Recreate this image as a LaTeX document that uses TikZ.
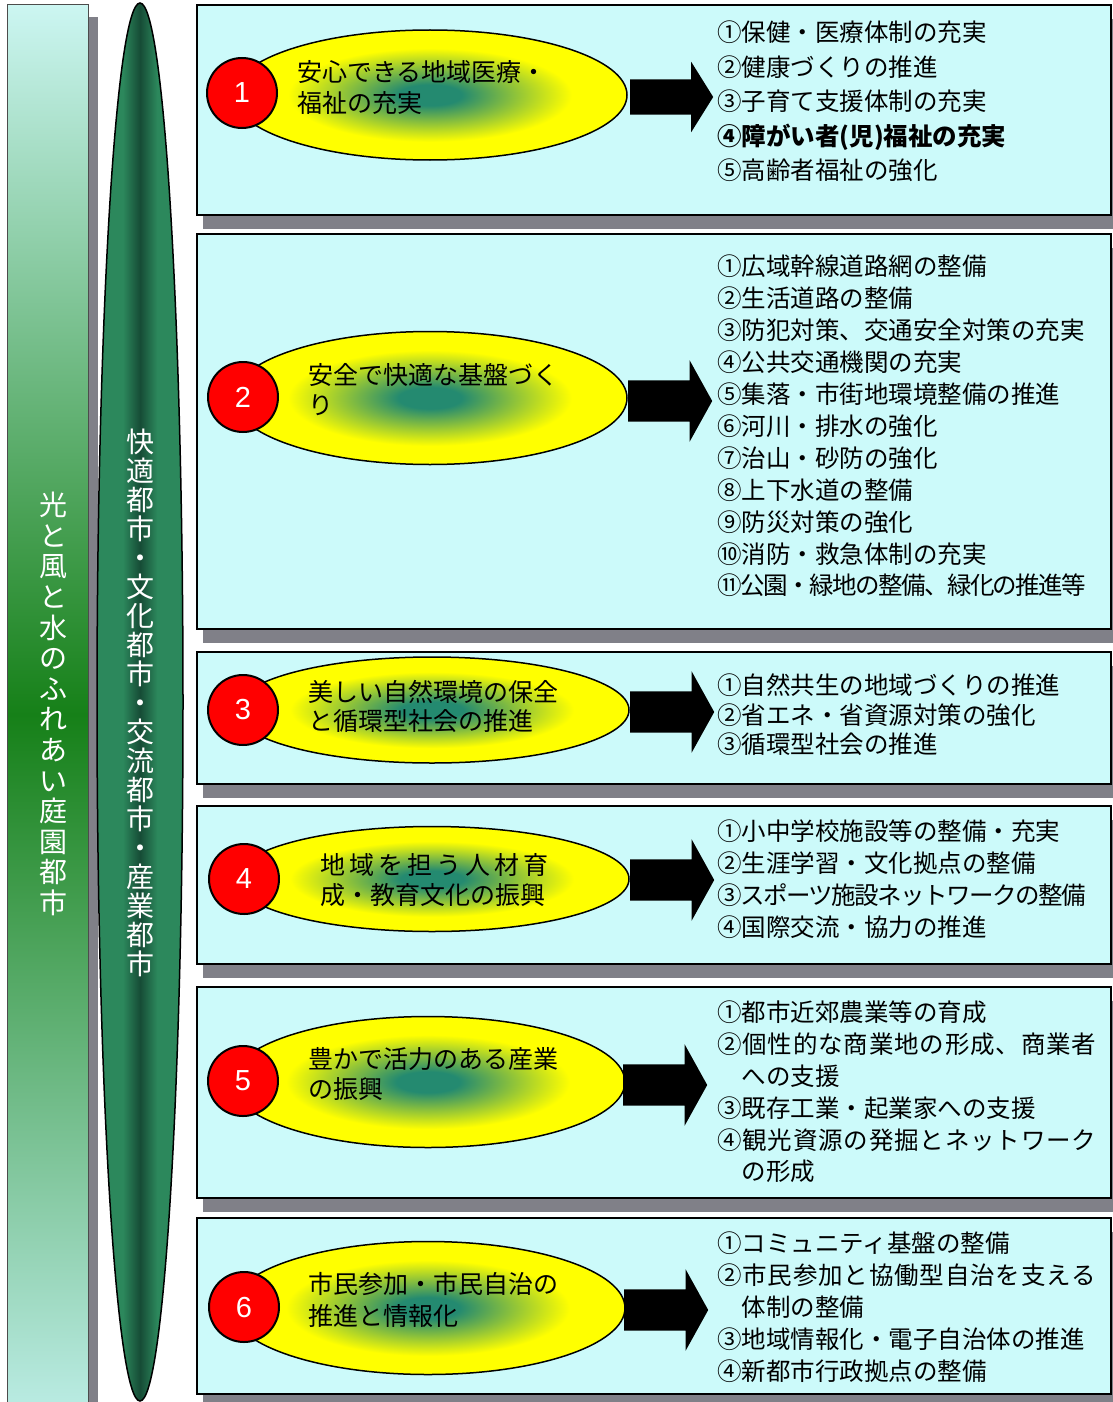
\documentclass[tikz,border=0pt]{standalone}
\usepackage{fontspec}
\setmainfont{Noto Sans CJK JP}
\newfontfamily\numfont{Liberation Sans}
\usetikzlibrary{positioning}
\usetikzlibrary{shapes.geometric,shapes.arrows,shadows}
\definecolor{boxcyan}{RGB}{204,250,250}
\definecolor{bandtop}{RGB}{204,246,242}
\definecolor{bandmid}{RGB}{22,128,24}
\definecolor{bandbot}{RGB}{190,238,232}
\definecolor{leafgreen}{RGB}{44,136,92}
\definecolor{leafdark}{RGB}{22,76,54}
\definecolor{ovalyellow}{RGB}{255,255,0}
\definecolor{ovalgreen}{RGB}{36,138,112}
\definecolor{shadowgray}{RGB}{128,128,136}
\pgfdeclareradialshading{ovalshade}{\pgfpoint{0bp}{0bp}}{color(0bp)=(ovalgreen); color(4bp)=(ovalgreen); color(18bp)=(ovalyellow); color(50bp)=(ovalyellow)}
\pgfdeclarehorizontalshading{leafshade}{100bp}{color(0bp)=(leafgreen); color(40bp)=(leafgreen); color(50bp)=(leafdark); color(60bp)=(leafgreen); color(100bp)=(leafgreen)}
\newcommand{\wide}[1]{{\addfontfeature{LetterSpace=3.4}#1}}
\newcommand{\tight}[1]{{\addfontfeature{LetterSpace=-6.2}#1}}

\begin{document}
\begin{tikzpicture}[x=1pt,y=-1pt,
	bandnode/.style={rectangle, draw=black!70, line width=1pt, top color=bandtop, bottom color=bandbot, middle color=bandmid, minimum width=81pt, minimum height=1420pt, anchor=north, general shadow={fill=shadowgray, shadow xshift=10pt, shadow yshift=-13pt}},
	leafnode/.style={ellipse, draw=black, line width=1.5pt, shade, shading=leafshade, minimum width=86pt, minimum height=1398pt},
	tatetext/.style={text=white, align=center, inner sep=0pt, font=\fontsize{28}{30.6}\selectfont},
	panelnode/.style={rectangle, draw=black, line width=1.8pt, fill=boxcyan, minimum width=914pt, anchor=north west, general shadow={fill=shadowgray, shadow xshift=6pt, shadow yshift=-14pt}},
	ovalnode/.style={ellipse, draw=black, line width=1.5pt, shade, shading=ovalshade, minimum width=394pt},
	roundnode/.style={circle, draw=black, line width=2pt, fill=red, minimum size=70pt, text=white, font=\numfont\fontsize{29}{29}\selectfont},
	ovaltext/.style={anchor=north west, align=left, inner sep=0pt, font=\fontsize{25}{30}\selectfont},
	listtext/.style={anchor=north west, align=left, inner sep=0pt, font=\fontsize{24.5}{31.9}\selectfont},
	blockarrow/.style={single arrow, fill=black, inner xsep=0pt, inner ysep=20.5pt, single arrow head extend=20pt, single arrow tip angle=122, minimum height=84pt, anchor=tail},
	]
	\useasboundingbox (0,0) rectangle (1112,1402);
	\fill[white] (0,0) rectangle (1112,1402);

	%Columns
	\node[bandnode] (band) at (47.5,4) {};
	\node[tatetext] (bandlabel) at (53,704) {光\\と\\風\\と\\水\\の\\ふ\\れ\\あ\\い\\庭\\園\\都\\市};
	\node[leafnode] (leaf) at (140,702) {};
	\node[tatetext, font=\fontsize{28}{29}\selectfont] (leaflabel) at (140,703) {快\\適\\都\\市\\・\\文\\化\\都\\市\\・\\交\\流\\都\\市\\・\\産\\業\\都\\市};

	%Panels
	\node[panelnode, minimum height=210pt] (p1) at (196,4) {};
	\node[panelnode, minimum height=395pt] (p2) at (196,233) {};
	\node[panelnode, minimum height=132pt] (p3) at (196,651) {};
	\node[panelnode, minimum height=158pt] (p4) at (196,805) {};
	\node[panelnode, minimum height=211pt] (p5) at (196,986) {};
	\node[panelnode, minimum height=176pt] (p6) at (196,1217) {};

	%Ovals
	\node[ovalnode, minimum height=130pt] (o1) at (430,95) {};
	\node[ovalnode, minimum height=133pt] (o2) at (430,398) {};
	\node[ovalnode, minimum height=106pt] (o3) at (432,710) {};
	\node[ovalnode, minimum height=105pt] (o4) at (432,879) {};
	\node[ovalnode, minimum height=131pt] (o5) at (428,1082) {};
	\node[ovalnode, minimum height=133pt] (o6) at (428,1308) {};

	\node[roundnode] (n1) at (242,93) {1};
	\node[roundnode] (n2) at (243,397) {2};
	\node[roundnode] (n3) at (243,710) {3};
	\node[roundnode] (n4) at (244,879) {4};
	\node[roundnode] (n5) at (243,1081) {5};
	\node[roundnode] (n6) at (244,1307) {6};

	\node[ovaltext, font=\fontsize{25}{31}\selectfont] (ot1) at (297,60.5) {安心できる地域医療・\\福祉の充実};
	\node[ovaltext] (ot2) at (308,363.5) {安全で快適な基盤づく\\り};
	\node[ovaltext, font=\fontsize{25}{29}\selectfont] (ot3) at (308,680.5) {美しい自然環境の保全\\と循環型社会の推進};
	\node[ovaltext] (ot4) at (320,853.5) {{\addfontfeature{LetterSpace=16}地域を担う人材育}\\成・教育文化の振興};
	\node[ovaltext] (ot5) at (308,1047.5) {豊かで活力のある産業\\の振興};
	\node[ovaltext, font=\fontsize{25}{32}\selectfont] (ot6) at (308,1272.5) {市民参加・市民自治の\\推進と情報化};

	%Arrows
	\node[blockarrow, inner ysep=17.5pt, single arrow head extend=17.5pt, single arrow tip angle=116, minimum height=83pt] (a1) at (630,97) {};
	\node[blockarrow] (a2) at (628,401) {};
	\node[blockarrow] (a3) at (630,712) {};
	\node[blockarrow] (a4) at (630,880) {};
	\node[blockarrow] (a5) at (623,1085) {};
	\node[blockarrow] (a6) at (624,1310) {};

	%Lists
	\node[listtext, font=\fontsize{24.5}{34.5}\selectfont] (l1) at (717,21) {①保健・医療体制の充実\\②健康づくりの推進\\③子育て支援体制の充実\\\textbf{④障がい者(児)福祉の充実}\\⑤高齢者福祉の強化};
	\node[listtext] (l2) at (717,255) {①広域幹線道路網の整備\\②生活道路の整備\\③防犯対策、交通安全対策の充実\\④公共交通機関の充実\\⑤集落・市街地環境整備の推進\\⑥河川・排水の強化\\⑦治山・砂防の強化\\⑧上下水道の整備\\⑨防災対策の強化\\⑩消防・救急体制の充実\\\tight{⑪公園・緑地の整備、緑化の推進等}};
	\node[listtext, font=\fontsize{24.5}{29.5}\selectfont] (l3) at (717,674) {①自然共生の地域づくりの推進\\②省エネ・省資源対策の強化\\③循環型社会の推進};
	\node[listtext, font=\fontsize{24.5}{31.7}\selectfont] (l4) at (717,820) {①小中学校施設等の整備・充実\\②生涯学習・文化拠点の整備\\\tight{③スポーツ施設ネットワークの整備}\\④国際交流・協力の推進};
	\node[listtext, font=\fontsize{24.5}{31.8}\selectfont] (l5) at (717,1001) {①都市近郊農業等の育成\\\wide{②個性的な商業地の形成、商業者}\\\hspace*{1em}への支援\\③既存工業・起業家への支援\\\wide{④観光資源の発掘とネットワーク}\\\hspace*{1em}の形成};
	\node[listtext, font=\fontsize{24.5}{32}\selectfont] (l6) at (717,1232) {①コミュニティ基盤の整備\\\wide{②市民参加と協働型自治を支える}\\\hspace*{1em}体制の整備\\③地域情報化・電子自治体の推進\\④新都市行政拠点の整備};
\end{tikzpicture}
\end{document}
